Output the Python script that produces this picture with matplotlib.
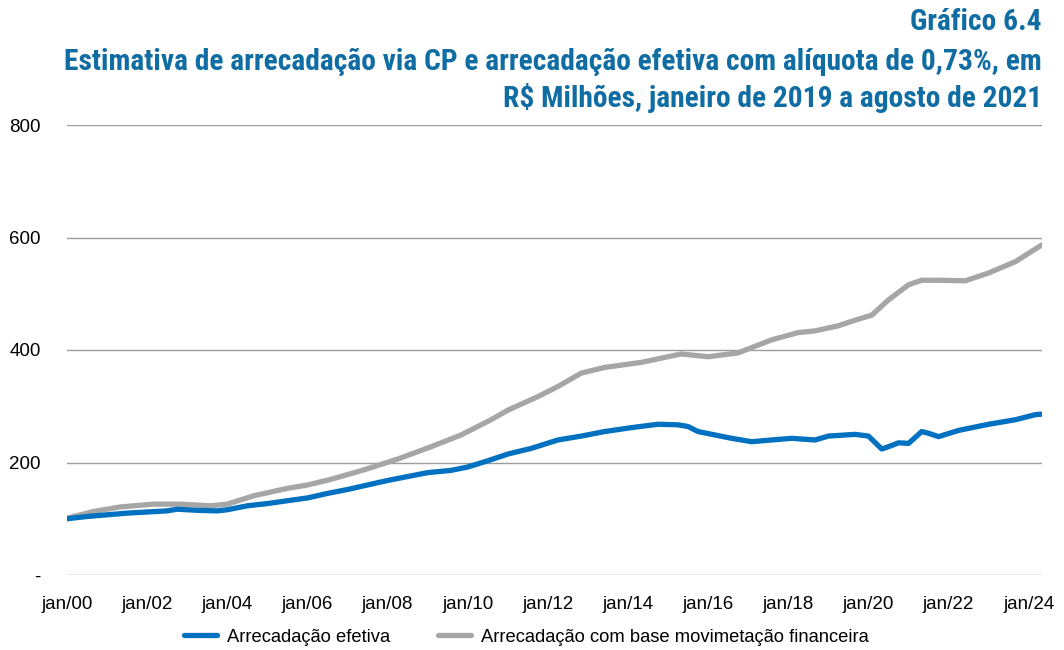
import matplotlib
matplotlib.use("Agg")
import matplotlib.pyplot as plt
import matplotlib.font_manager as fm
import pandas as pd

plt.rcParams['font.family'] = ['Liberation Sans', 'DejaVu Sans']

# Data (R$ milhões)
efetiva_dates = ["2000-01", "2000-07", "2001-01", "2001-07", "2002-01", "2002-07", "2002-10",
                 "2003-04", "2003-10", "2004-01", "2004-07", "2005-01", "2005-07", "2006-01",
                 "2006-07", "2007-01", "2007-07", "2008-01", "2008-07", "2009-01", "2009-08",
                 "2010-01", "2010-07", "2011-01", "2011-08", "2012-04", "2012-11", "2013-06",
                 "2014-02", "2014-10", "2015-04", "2015-07", "2015-10", "2016-08", "2017-02",
                 "2017-08", "2018-02", "2018-09", "2019-01", "2019-09", "2020-01", "2020-05",
                 "2020-07", "2020-10", "2021-01", "2021-05", "2021-07", "2021-10", "2022-04",
                 "2023-01", "2023-09", "2024-03", "2024-05"]
efetiva_vals = [100, 104, 107, 110, 112, 114, 117,
                115, 114, 116, 123, 127, 132, 137,
                145, 152, 160, 168, 175, 182, 186,
                192, 203, 215, 225, 240, 247, 255,
                262, 268, 267, 264, 255, 243, 237,
                240, 243, 240, 247, 250, 247, 224,
                228, 235, 234, 255, 252, 246, 257,
                268, 276, 285, 286]

movfin_dates = ["2000-01", "2000-09", "2001-05", "2002-03", "2002-11", "2003-08", "2004-01",
                "2004-09", "2005-07", "2006-01", "2006-08", "2007-06", "2008-04", "2009-02",
                "2009-11", "2010-08", "2011-01", "2011-10", "2012-04", "2012-11", "2013-06",
                "2014-05", "2015-05", "2016-01", "2016-10", "2017-08", "2018-04", "2018-09",
                "2019-04", "2019-09", "2020-02", "2020-07", "2021-01", "2021-05", "2021-10",
                "2022-06", "2023-01", "2023-09", "2024-05"]
movfin_vals = [101, 113, 121, 126, 126, 123, 126,
               141, 154, 160, 170, 187, 206, 228,
               249, 276, 293, 317, 335, 359, 369,
               378, 393, 388, 395, 418, 431, 434,
               443, 453, 462, 489, 516, 524, 524,
               523, 537, 557, 587]

yticks = [0, 200, 400, 600, 800]
ytick_labels = ["-", "200", "400", "600", "800"]
xtick_years = list(range(2000, 2025, 2))
xtick_labels = [f"jan/{y % 100:02d}" for y in xtick_years]

title_lines = ["Gráfico 6.4",
               "Estimativa de arrecadação via CP e arrecadação efetiva com alíquota de 0,73%, em",
               "R$ Milhões, janeiro de 2019 a agosto de 2021"]

blue = "#0070C0"
gray = "#A6A6A6"
title_color = "#0F6DA3"

# pick a narrow font for the title if one is installed
available = {f.name for f in fm.fontManager.ttflist}
narrow = None
for cand in ['Liberation Sans Narrow', 'Arial Narrow', 'Roboto Condensed',
             'Open Sans Condensed', 'DejaVu Sans Condensed']:
    if cand in available:
        narrow = cand
        break
if narrow:
    tfam = [narrow, 'DejaVu Sans']
    tweight = 'bold'
else:
    tfam = ['Liberation Sans', 'DejaVu Sans']
    tweight = 'normal'

ef_x = pd.to_datetime(efetiva_dates)
mf_x = pd.to_datetime(movfin_dates)

fig = plt.figure(figsize=(10.64, 6.5), dpi=100)
ax = fig.add_axes([67/1064, 1-575/650, (1042-67)/1064, (575-125)/650])

ax.plot(ef_x, efetiva_vals, color=blue, lw=3.8, solid_capstyle='round', zorder=3,
        label="Arrecadação efetiva")
ax.plot(mf_x, movfin_vals, color=gray, lw=3.8, solid_capstyle='round', zorder=2,
        label="Arrecadação com base movimetação financeira")

ax.set_ylim(0, 800)
ax.set_xlim(ef_x[0], ef_x[-1])
ax.set_yticks(yticks)
ax.set_yticklabels(ytick_labels)
ax.set_xticks(pd.to_datetime([f"{y}-01-01" for y in xtick_years]))
ax.set_xticklabels(xtick_labels)
ax.tick_params(axis='both', length=0, labelsize=13.5, colors='black')
ax.tick_params(axis='y', pad=19)
ax.tick_params(axis='x', pad=15)
ax.yaxis.grid(True, color="#9C9C9C", lw=1.0)
ax.set_axisbelow(True)
for s in ax.spines.values():
    s.set_visible(False)

handles, labels = ax.get_legend_handles_labels()
fig.legend(handles, labels, loc='center', bbox_to_anchor=(526/1064, 13/650), ncol=2,
           frameon=False, fontsize=13.2, handlelength=1.8, columnspacing=2.6,
           handletextpad=0.55, borderpad=0.0, borderaxespad=0.0)

texts = []
for ypx, line in zip([22, 62, 98], title_lines):
    t = fig.text(1042/1064, 1-ypx/650, line, ha='right', va='center', fontsize=20,
                 color=title_color, family=tfam, weight=tweight)
    texts.append(t)

# scale title size so the long line spans the same width as in the reference
fig.canvas.draw()
r = fig.canvas.get_renderer()
w = texts[1].get_window_extent(r).width
scale = 975.0 / w
for t in texts:
    t.set_fontsize(20 * scale)

fig.savefig("out.png", dpi=100)
